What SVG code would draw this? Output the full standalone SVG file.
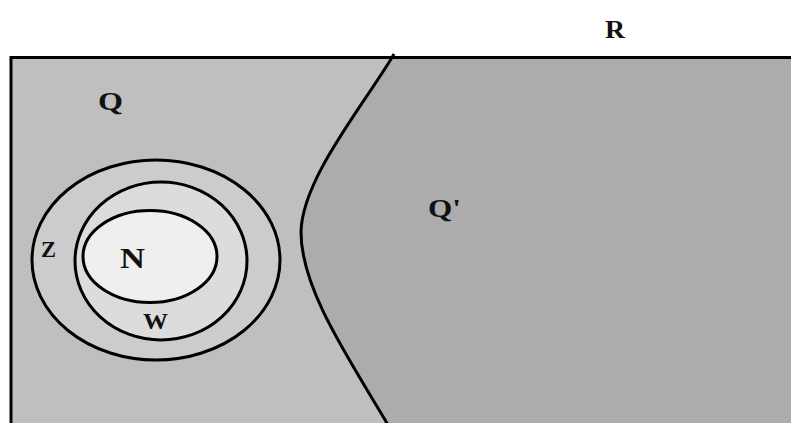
<svg xmlns="http://www.w3.org/2000/svg" width="791" height="423" viewBox="0 0 791 423">
  <style>
    .ln { stroke: #000; stroke-width: 3; }
    .lbl { font-family: "Liberation Serif", "Times New Roman", serif; font-weight: bold; fill: #111; }
  </style>
  <rect x="0" y="0" width="791" height="423" fill="#ffffff"/>
  <g id="Q">
    <rect x="11" y="57.5" width="800" height="400" fill="#bfbfbf"/>
    <text class="lbl" x="98" y="110" font-size="26" textLength="25" lengthAdjust="spacingAndGlyphs">Q</text>
  </g>
  <g id="Qprime">
    <path d="M392,57.5 C360,110 302,180 301,232 C301,290 350,360 391,430 L800,430 L800,57.5 Z" fill="#acacac"/>
    <text class="lbl" x="428" y="217" font-size="26" textLength="33" lengthAdjust="spacingAndGlyphs">Q'</text>
  </g>
  <g id="Z">
    <ellipse cx="156" cy="260" rx="124" ry="100" fill="#cccccc" class="ln"/>
    <text class="lbl" x="41" y="257" font-size="24" textLength="15" lengthAdjust="spacingAndGlyphs">Z</text>
  </g>
  <g id="W">
    <ellipse cx="161" cy="261" rx="86" ry="79" fill="#dcdcdc" class="ln"/>
    <text class="lbl" x="143" y="329" font-size="24" textLength="25" lengthAdjust="spacingAndGlyphs">W</text>
  </g>
  <g id="N">
    <ellipse cx="150" cy="256.5" rx="67" ry="46" fill="#efefef" class="ln"/>
    <text class="lbl" x="120" y="268" font-size="30" textLength="25" lengthAdjust="spacingAndGlyphs">N</text>
  </g>
  <g id="R">
    <text class="lbl" x="605" y="38" font-size="25" textLength="20" lengthAdjust="spacingAndGlyphs">R</text>
  </g>
  <g id="connectors" fill="none">
    <path class="ln" d="M394,54 L392,57.5 C360,110 302,180 301,232 C301,290 350,360 391,430"/>
    <path class="ln" d="M11,430 L11,57.5 L800,57.5"/>
  </g>
</svg>
